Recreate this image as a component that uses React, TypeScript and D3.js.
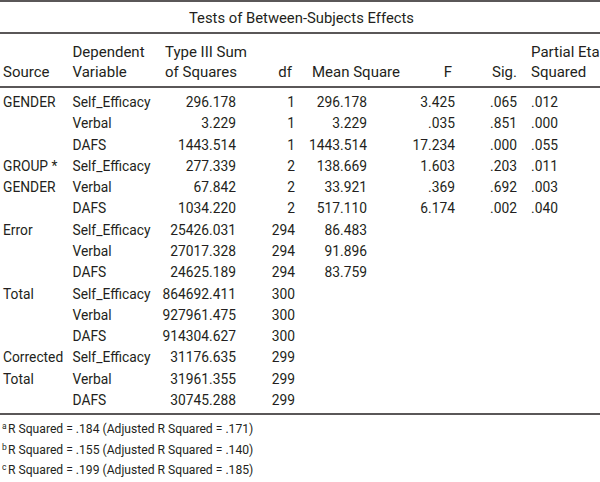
import React from "react";
import * as d3 from "d3";

const title = "Tests of Between-Subjects Effects";
const headerTop = ["", "Dependent", "Type III Sum", "", "", "", "", "Partial Eta"];
const headerBottom = ["Source", "Variable", "of Squares", "df", "Mean Square", "F", "Sig.", "Squared"];
const sourceLabels = [["GENDER"], ["GROUP *", "GENDER"], ["Error"], ["Total"], ["Corrected", "Total"]];
const depVars = ["Self_Efficacy", "Verbal", "DAFS"];
const typeIIISS = [296.178, 3.229, 1443.514, 277.339, 67.842, 1034.22, 25426.031, 27017.328, 24625.189, 864692.411, 927961.475, 914304.627, 31176.635, 31961.355, 30745.288];
const dfValues = [1, 1, 1, 2, 2, 2, 294, 294, 294, 300, 300, 300, 299, 299, 299];
const meanSquare = [296.178, 3.229, 1443.514, 138.669, 33.921, 517.11, 86.483, 91.896, 83.759];
const fValues = [3.425, 0.035, 17.234, 1.603, 0.369, 6.174];
const sigValues = [0.065, 0.851, 0.0, 0.203, 0.692, 0.002];
const etaValues = [0.012, 0.0, 0.055, 0.011, 0.003, 0.04];
const footMarks = ["a", "b", "c"];
const footTexts = [
  "R Squared = .184 (Adjusted R Squared = .171)",
  "R Squared = .155 (Adjusted R Squared = .140)",
  "R Squared = .199 (Adjusted R Squared = .185)",
];

const W = 600;
const H = 482;
const FONT = "Roboto, 'Liberation Sans', Arial, sans-serif";
const INK = "#231f20";

const f3 = d3.format(".3f");
const noLead = (v: number) => f3(v).replace(/^0\./, ".");

export default function App() {
  const nRows = typeIIISS.length;
  const y = d3.scaleLinear().domain([0, nRows - 1]).range([107, 405]);
  const footY = d3.scaleLinear().domain([0, 2]).range([433, 474]);

  const col = {
    source: 3,
    dep: 72.5,
    ss: 236,
    ssHead: 165,
    df: 295,
    dfHead: 292,
    ms: 367,
    msHead: 312,
    f: 455,
    fHead: 452,
    sig: 517,
    eta: 531,
  };
  const headY1 = 56.5;
  const headY2 = 77;
  const bodySize = 13.8;
  const headSize = 15;

  const rows = d3.range(nRows);

  return (
    <svg
      width={W}
      height={H}
      style={{ position: "absolute", left: 0, top: 0, background: "#fff" }}
      fontFamily={FONT}
      fill={INK}
    >
      <rect width={W} height={H} fill="#fff" />
      <line x1={0} x2={W} y1={1} y2={1} stroke={INK} strokeWidth={1.5} />
      <line x1={0} x2={W} y1={33} y2={33} stroke={INK} strokeWidth={1.5} />
      <line x1={0} x2={W} y1={87} y2={87} stroke={INK} strokeWidth={1.5} />
      <line x1={0} x2={W} y1={414} y2={414} stroke={INK} strokeWidth={1.5} />

      <text x={301.5} y={23} textAnchor="middle" fontSize={14.8}>
        {title}
      </text>

      <g fontSize={headSize}>
        <text x={col.dep} y={headY1}>{headerTop[1]}</text>
        <text x={col.ssHead} y={headY1}>{headerTop[2]}</text>
        <text x={col.eta} y={headY1}>{headerTop[7]}</text>
        <text x={col.source} y={headY2}>{headerBottom[0]}</text>
        <text x={col.dep} y={headY2}>{headerBottom[1]}</text>
        <text x={col.ssHead} y={headY2}>{headerBottom[2]}</text>
        <text x={col.dfHead} y={headY2} textAnchor="end">{headerBottom[3]}</text>
        <text x={col.msHead} y={headY2}>{headerBottom[4]}</text>
        <text x={col.fHead} y={headY2} textAnchor="end">{headerBottom[5]}</text>
        <text x={col.sig} y={headY2} textAnchor="end">{headerBottom[6]}</text>
        <text x={col.eta} y={headY2}>{headerBottom[7]}</text>
      </g>

      <g fontSize={bodySize}>
        {sourceLabels.map((lines, gi) =>
          lines.map((s, li) => (
            <text key={`s${gi}-${li}`} x={col.source} y={y(gi * 3 + li)}>
              {s}
            </text>
          ))
        )}
        {rows.map((i) => (
          <g key={i}>
            <text x={col.dep} y={y(i)}>{depVars[i % 3]}</text>
            <text x={col.ss} y={y(i)} textAnchor="end">{f3(typeIIISS[i])}</text>
            <text x={col.df} y={y(i)} textAnchor="end">{dfValues[i]}</text>
            {i < meanSquare.length && (
              <text x={col.ms} y={y(i)} textAnchor="end">{f3(meanSquare[i])}</text>
            )}
            {i < fValues.length && (
              <text x={col.f} y={y(i)} textAnchor="end">{noLead(fValues[i])}</text>
            )}
            {i < sigValues.length && (
              <text x={col.sig} y={y(i)} textAnchor="end">{noLead(sigValues[i])}</text>
            )}
            {i < etaValues.length && (
              <text x={col.eta} y={y(i)}>{noLead(etaValues[i])}</text>
            )}
          </g>
        ))}
      </g>

      {footTexts.map((t, i) => (
        <g key={`fn${i}`}>
          <text x={2} y={footY(i) - 4} fontSize={8.5}>{footMarks[i]}</text>
          <text
            transform={`translate(8,${footY(i)}) scale(0.9,1)`}
            fontSize={13.5}
          >
            {t}
          </text>
        </g>
      ))}
    </svg>
  );
}
